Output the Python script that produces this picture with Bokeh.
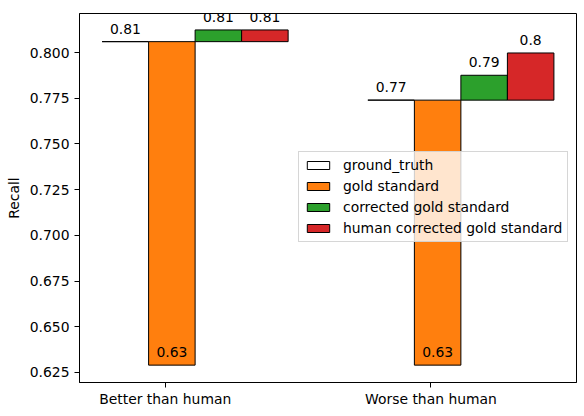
from bokeh.plotting import figure
from bokeh.models import ColumnDataSource, FixedTicker, Legend, LegendItem, Range1d, PrintfTickFormatter
from bokeh.core.properties import value
from bokeh.embed import file_html
from bokeh.resources import INLINE

categories = ["Better than human", "Worse than human"]
series_names = ["ground_truth", "gold standard", "corrected gold standard", "human corrected gold standard"]
ground_truth = [0.806, 0.774]
gold_standard = [0.629, 0.629]
corrected_gold_standard = [0.8124, 0.7876]
human_corrected_gold_standard = [0.8124, 0.7998]
y_ticks = [0.625, 0.650, 0.675, 0.700, 0.725, 0.750, 0.775, 0.800]
colors = ["white", "#ff7f0e", "#2ca02c", "#d62728"]

series = [ground_truth, gold_standard, corrected_gold_standard, human_corrected_gold_standard]
bar_w = 0.175
offsets = [-0.15 + i * bar_w for i in range(4)]
FONT = "DejaVu Sans"
FS = "13.9px"

p = figure(width=584, height=416, output_backend="svg", toolbar_location=None,
           x_range=Range1d(-0.3225, 1.5475), y_range=Range1d(0.6195, 0.8214),
           min_border_left=79, min_border_right=8, min_border_top=13, min_border_bottom=34)
p.background_fill_color = "white"
p.border_fill_color = "white"
p.outline_line_color = "black"
p.outline_line_width = 1
p.xgrid.visible = False
p.ygrid.visible = False

items = []
for i, (name, vals) in enumerate(zip(series_names, series)):
    xs = [k + offsets[i] for k in range(len(categories))]
    src = ColumnDataSource(dict(x=xs, bottom=ground_truth, top=vals,
                                label=[str(round(v, 2)) for v in vals]))
    r = p.vbar(x="x", width=bar_w, bottom="bottom", top="top", source=src,
               fill_color=colors[i], line_color="black", line_width=1)
    p.text(x="x", y="top", text="label", source=src, text_align="center",
           text_baseline="alphabetic", y_offset=-13, text_font=value(FONT),
           text_font_size=FS, text_color="black")
    items.append(LegendItem(label=name, renderers=[r]))

legend = Legend(items=items, location=(219, 140), padding=5, spacing=5,
                glyph_width=28, glyph_height=10, label_height=14, label_standoff=11,
                label_text_font=FONT, label_text_font_size=FS, label_text_color="black",
                border_line_color="#cccccc", border_line_alpha=0.8,
                background_fill_color="white", background_fill_alpha=0.8, margin=0)
p.add_layout(legend)

p.xaxis.ticker = FixedTicker(ticks=list(range(len(categories))))
p.xaxis.major_label_overrides = {i: c for i, c in enumerate(categories)}
p.yaxis.ticker = FixedTicker(ticks=y_ticks)
p.yaxis.formatter = PrintfTickFormatter(format="%.3f")
p.yaxis.axis_label = "Recall"
for ax in (p.xaxis[0], p.yaxis[0]):
    ax.axis_line_color = "black"
    ax.major_tick_line_color = "black"
    ax.major_tick_out = 5
    ax.major_tick_in = 0
    ax.minor_tick_line_color = None
    ax.major_label_text_font = FONT
    ax.major_label_text_font_size = FS
    ax.major_label_text_color = "black"
    ax.axis_label_text_font = FONT
    ax.axis_label_text_font_size = FS
    ax.axis_label_text_font_style = "normal"
    ax.axis_label_text_color = "black"
p.yaxis[0].major_label_standoff = 5
p.yaxis[0].axis_label_standoff = 5
p.xaxis[0].major_label_standoff = 3
p.xaxis[0].axis_label_standoff = 0

open("out.html", "w").write(file_html(p, INLINE))
